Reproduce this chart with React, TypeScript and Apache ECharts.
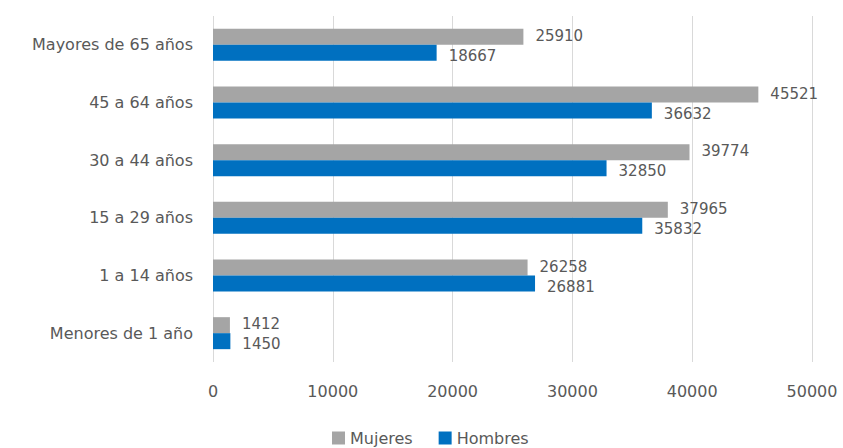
import React, { useEffect, useRef } from "react";
import * as echarts from "echarts";

const categories = [
  "Mayores de 65 años",
  "45 a 64 años",
  "30 a 44 años",
  "15 a 29 años",
  "1 a 14 años",
  "Menores de 1 año",
];
const mujeres = [25910, 45521, 39774, 37965, 26258, 1412];
const hombres = [18667, 36632, 32850, 35832, 26881, 1450];
const xTicks = { min: 0, max: 50000, interval: 10000 };

const FONT = "DejaVu Sans";
const TEXT = "#595959";

export default function App() {
  const ref = useRef<HTMLDivElement>(null);
  useEffect(() => {
    if (!ref.current) return;
    const chart = echarts.init(ref.current, null, { renderer: "svg" });
    const label = {
      show: true,
      position: "right" as const,
      distance: 12,
      color: TEXT,
      fontFamily: FONT,
      fontSize: 15,
      lineHeight: 15,
    };
    chart.setOption({
      animation: false,
      textStyle: { fontFamily: FONT },
      grid: { left: 213, right: 31, top: 16, bottom: 86 },
      legend: {
        data: ["Mujeres", "Hombres"],
        left: 327,
        top: 424,
        itemWidth: 13,
        itemHeight: 13,
        itemGap: 26,
        icon: "rect",
        textStyle: { color: TEXT, fontFamily: FONT, fontSize: 16, lineHeight: 18 },
      },
      xAxis: {
        type: "value",
        min: xTicks.min,
        max: xTicks.max,
        interval: xTicks.interval,
        axisLine: { show: false },
        axisTick: { show: false },
        axisLabel: {
          color: TEXT,
          fontFamily: FONT,
          fontSize: 16,
          margin: 21,
          formatter: (v: number) => String(v),
        },
        splitLine: { show: true, lineStyle: { color: "#D9D9D9", width: 1 } },
      },
      yAxis: {
        type: "category",
        data: categories,
        inverse: true,
        axisLine: { show: false },
        axisTick: { show: false },
        axisLabel: { color: TEXT, fontFamily: FONT, fontSize: 16, margin: 20 },
      },
      series: [
        {
          name: "Mujeres",
          type: "bar",
          data: mujeres,
          barWidth: 16,
          barGap: "0%",
          itemStyle: { color: "#A5A5A5" },
          label: { ...label, offset: [0, -1] },
        },
        {
          name: "Hombres",
          type: "bar",
          data: hombres,
          barWidth: 16,
          barGap: "0%",
          itemStyle: { color: "#0070C0" },
          label: { ...label, offset: [0, 3] },
        },
      ],
    });
    return () => chart.dispose();
  }, []);
  return <div ref={ref} style={{ width: 843, height: 448, position: "absolute", left: 0, top: 0 }} />;
}
